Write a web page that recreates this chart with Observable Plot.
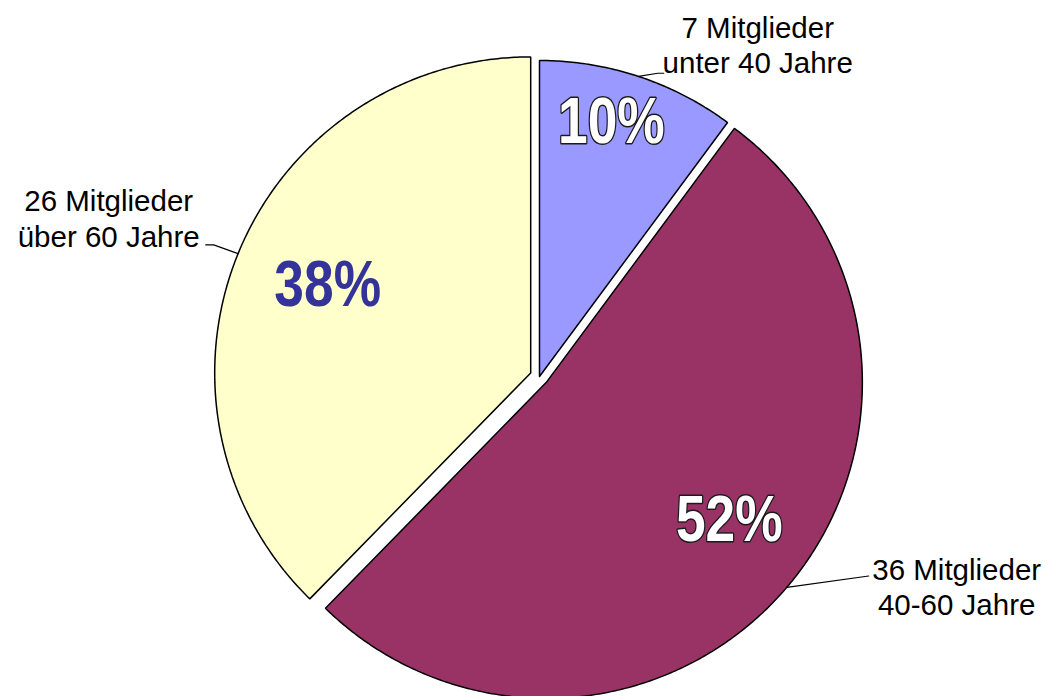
<!DOCTYPE html>
<html>
<head>
<meta charset="utf-8">
<script src="https://cdn.jsdelivr.net/npm/d3@7"></script>
<script src="https://cdn.jsdelivr.net/npm/@observablehq/plot@0.6"></script>
<style>
  html, body { margin: 0; padding: 0; background: #fff; }
  #chart svg { display: block; }
</style>
</head>
<body>
<div id="chart"></div>
<script>
// ---- data ----
const categories = ["unter 40 Jahre", "40-60 Jahre", "über 60 Jahre"];
const counts = [7, 36, 26];
const unitLabel = "Mitglieder";

// ---- style / layout ----
const colors = ["#9999FF", "#993366", "#FFFFCC"];
const pctFill = ["#ffffff", "#ffffff", "#333399"];
const pctStroke = ["#1a1a1a", "#1a1a1a", "none"];
const R = 316;                 // pie radius in px
const W = 1053, H = 696;
const cx = 539, cy = 376;      // pie centre in px
const explodePx = [0, 9, 9.5]; // explosion distance per slice
const pctA = [15.8, 127, 293.4];
const pctR = [0.835, 0.725, 0.70];
const elbowR = [1.03, 1.19, 1.082];
const elbowA = [21.3, 121, 292];
const stubPx = [6, 0, -8];
const textDx = [94, 88, -97];
const textDy = [-29, 10, -27];
const narrow = 0.82;           // horizontal condensing of the percentage font

const total = d3.sum(counts);
const rad = d => d * Math.PI / 180;

// slice angles (clockwise from 12 o'clock)
let acc = 0;
const slices = counts.map((v, i) => {
  const a0 = acc / total * 360;
  acc += v;
  const a1 = acc / total * 360;
  const mid = (a0 + a1) / 2;
  const ox = Math.sin(rad(mid)) * explodePx[i] / R;
  const oy = Math.cos(rad(mid)) * explodePx[i] / R;
  return {i, v, a0, a1, mid, ox, oy, cat: categories[i],
          pct: Math.round(v / total * 100) + "%"};
});

// polygon outline for each slice in unit-radius coordinates (y up)
function slicePoly(s) {
  const pts = [{x: s.ox, y: s.oy}];
  const n = Math.max(2, Math.ceil((s.a1 - s.a0) / 0.5));
  for (let k = 0; k <= n; k++) {
    const a = s.a0 + (s.a1 - s.a0) * k / n;
    pts.push({x: s.ox + Math.sin(rad(a)), y: s.oy + Math.cos(rad(a))});
  }
  pts.push({x: s.ox, y: s.oy});
  return pts;
}

const marks = [];
slices.forEach(s => {
  marks.push(Plot.line(slicePoly(s), {
    x: "x", y: "y", fill: colors[s.i], stroke: "#000", strokeWidth: 1.5,
    strokeLinejoin: "miter"
  }));
});

// leader lines + outer labels
slices.forEach(s => {
  const i = s.i;
  const p0 = {x: s.ox + Math.sin(rad(s.mid)), y: s.oy + Math.cos(rad(s.mid))};
  const p1 = {x: s.ox + elbowR[i] * Math.sin(rad(elbowA[i])),
              y: s.oy + elbowR[i] * Math.cos(rad(elbowA[i]))};
  const p2 = {x: p1.x + stubPx[i] / R, y: p1.y};
  marks.push(Plot.line([p0, p1, p2], {x: "x", y: "y", stroke: "#000", strokeWidth: 1.2}));
  marks.push(Plot.text([{x: p2.x, y: p2.y, t: `${counts[i]} ${unitLabel}\n${s.cat}`}], {
    x: "x", y: "y", text: "t", dx: textDx[i], dy: textDy[i],
    fontSize: 29.5, fill: "#000", textAnchor: "middle", lineHeight: 1.2,
    fontFamily: "'Liberation Sans', Arial, sans-serif"
  }));
});

// percentage labels
slices.forEach(s => {
  const i = s.i;
  marks.push(Plot.text([{x: s.ox + pctR[i] * Math.sin(rad(pctA[i])),
                         y: s.oy + pctR[i] * Math.cos(rad(pctA[i])), t: s.pct}], {
    x: "x", y: "y", text: "t", fontSize: 65, fontWeight: "bold",
    fontFamily: "'Liberation Sans', Arial, sans-serif",
    fill: pctFill[i], stroke: pctStroke[i], strokeWidth: pctStroke[i] === "none" ? 0 : 3,
    textAnchor: "middle"
  }));
});

const chart = Plot.plot({
  width: W, height: H, margin: 0,
  x: {axis: null, domain: [-cx / R, (W - cx) / R]},
  y: {axis: null, domain: [(cy - H) / R, cy / R]},
  style: {background: "#fff"},
  marks
});
document.getElementById("chart").appendChild(chart);

// condense the percentage labels (Arial Narrow look-alike)
chart.querySelectorAll("text").forEach(t => {
  if (/%$/.test(t.textContent.trim())) {
    const w = t.getComputedTextLength();
    t.setAttribute("textLength", (w * narrow).toFixed(1));
    t.setAttribute("lengthAdjust", "spacingAndGlyphs");
  }
});
</script>
</body>
</html>
